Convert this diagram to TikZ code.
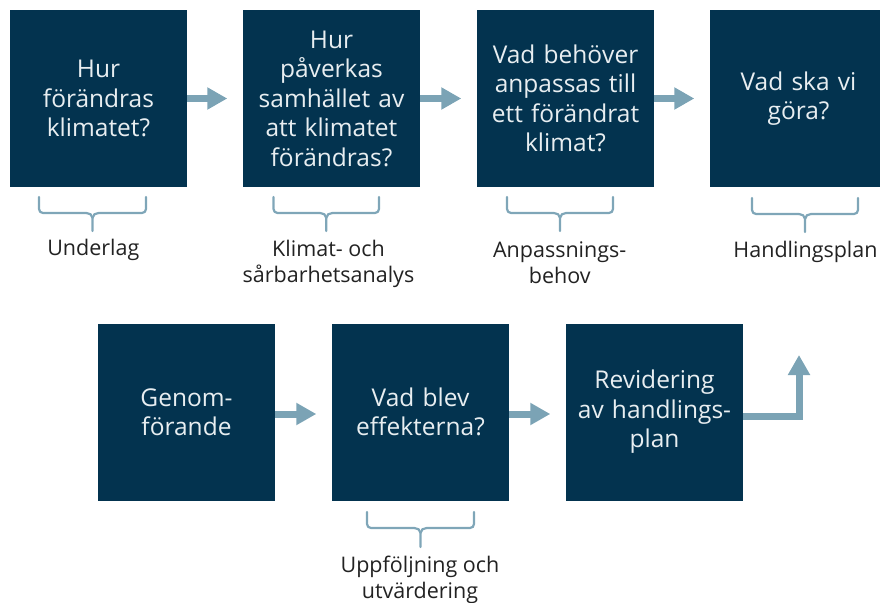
\documentclass[tikz,border=0pt]{standalone}
\usepackage{fontspec}
\setmainfont{Open Sans}
\usetikzlibrary{arrows.meta}
\definecolor{boxblue}{HTML}{03334F}
\definecolor{arrowblue}{HTML}{7BA3B5}
\definecolor{bracecol}{HTML}{7FA6B8}
\definecolor{boxtext}{HTML}{E8EEF1}
\definecolor{labeltext}{HTML}{222222}
\tikzset{
  stepbox/.style={fill=boxblue, draw=none, minimum width=177pt, minimum height=177pt,
    inner sep=0pt, text=boxtext, align=center, text width=170pt,
    font=\fontsize{24.5pt}{29.5pt}\selectfont},
  flowarrow/.style={draw=arrowblue, line width=7pt,
    -{Triangle[width=21pt,length=20pt]}, shorten >=15.5pt},
  bracepath/.style={draw=bracecol, line width=2.2pt, line cap=round},
  lbl/.style={text=labeltext, align=center, inner sep=0pt,
    font=\fontsize{21.5pt}{26pt}\selectfont}
}
\newcommand{\mybrace}[4]{% x1, x2, ytop, ytip
  \pgfmathsetmacro{\cx}{(#1+#2)/2}
  \pgfmathsetmacro{\ym}{#3+16}
  \draw[bracepath, rounded corners=4pt] (#1,#3) |- (\cx-6,\ym);
  \draw[bracepath, rounded corners=4pt] (#2,#3) |- (\cx+6,\ym);
  \draw[bracepath] (\cx-6,\ym) to[out=0,in=90] (\cx,\ym+5) -- (\cx,#4);
  \draw[bracepath] (\cx+6,\ym) to[out=180,in=90] (\cx,\ym+5);
}
\begin{document}
\begin{tikzpicture}[x=1pt,y=-1pt]
\useasboundingbox (0,0) rectangle (880,602);
\clip (0,0) rectangle (880,602);
% top row
\node[stepbox] (b1) at (98.5,98.5) {Hur\\förändras\\klimatet?};
\node[stepbox] (b2) at (331.5,98.5) {Hur\\påverkas\\samhället av\\att klimatet\\förändras?};
\node[stepbox] (b3) at (565.5,98.5) {Vad behöver\\anpassas till\\ett förändrat\\klimat?};
\node[stepbox] (b4) at (798.5,98.5) {Vad ska vi\\göra?};
% bottom row
\node[stepbox] (b5) at (186.5,412) {Genom-\\förande};
\node[stepbox] (b6) at (420.5,412) {Vad blev\\effekterna?};
\node[stepbox] (b7) at (654.5,412) {Revidering\\av handlings-\\plan};
% arrows
\draw[flowarrow] (b1.east) -- (b2.west);
\draw[flowarrow] (b2.east) -- (b3.west);
\draw[flowarrow] (b3.east) -- (b4.west);
\draw[flowarrow] ([yshift=-2pt]b5.east) -- ([yshift=-2pt]b6.west);
\draw[flowarrow] ([yshift=-2pt]b6.east) -- ([yshift=-2pt]b7.west);
\coordinate (up) at (799,355);
\draw[flowarrow, shorten >=0pt] ([yshift=-4pt]b7.east) -| (up);
% braces
\mybrace{39}{146}{197}{231}
\mybrace{273.5}{379}{197}{231}
\mybrace{507}{613}{197}{231}
\mybrace{752}{858}{198}{232}
\mybrace{367}{474}{512}{547}
% labels
\node[lbl] (l1) at (93.3,250) {Underlag};
\node[lbl] (l2) at (328.5,264) {Klimat- och\\sårbarhetsanalys};
\node[lbl] (l3) at (559.7,263) {Anpassnings-\\behov};
\node[lbl] (l4) at (805.5,252) {Handlingsplan};
\node[lbl] (l5) at (420,579.5) {Uppföljning och\\utvärdering};
\end{tikzpicture}
\end{document}
